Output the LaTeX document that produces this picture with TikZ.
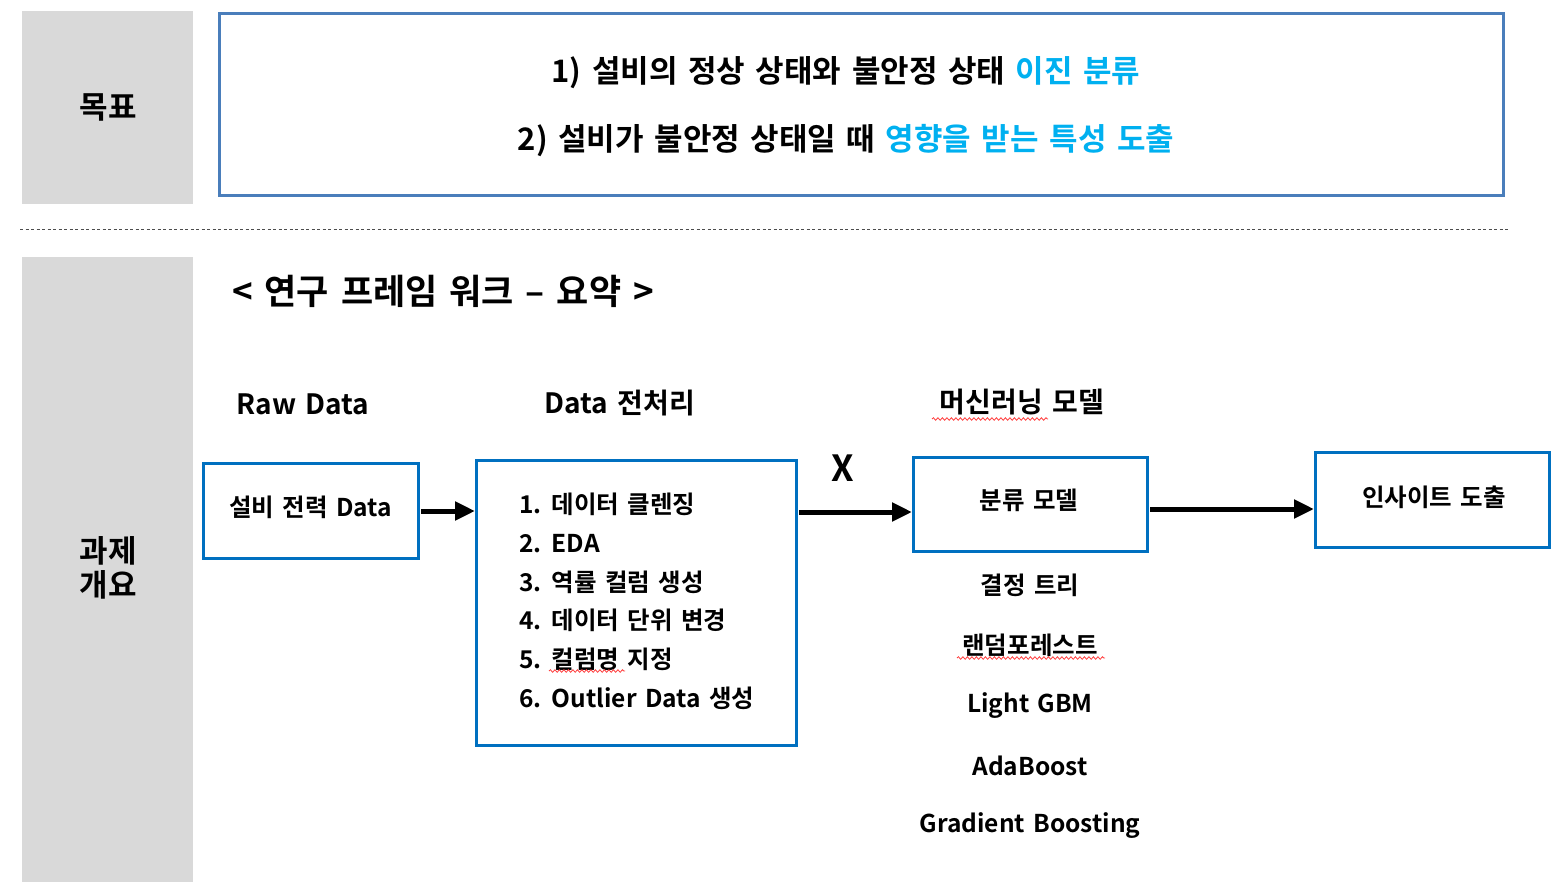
\documentclass[tikz,border=0pt]{standalone}
\usepackage{fontspec}
\setmainfont{Noto Sans CJK KR}[BoldFont={Noto Sans CJK KR Bold}, WordSpace=1.5]
\usetikzlibrary{arrows.meta,decorations.pathmorphing}
\definecolor{graybg}{HTML}{D9D9D9}
\definecolor{goalblue}{HTML}{4A7EBB}
\definecolor{boxblue}{HTML}{0070C0}
\definecolor{hl}{HTML}{00B0F0}
\begin{document}
\begin{tikzpicture}[x=1pt,y=-1pt,
  txt/.style={font=\fontsize{#1}{#1}\selectfont\bfseries, inner sep=0pt},
  txt/.default=24,
  flowbox/.style={draw=boxblue, line width=3pt, fill=white},
  bigarrow/.style={line width=5pt, -{Triangle[length=20pt,width=18pt]}, shorten <=3pt, shorten >=1pt},
  squig/.style={draw=red!75, line width=0.8pt, decorate, decoration={snake, amplitude=1.3pt, segment length=4.5pt}}]
\useasboundingbox (0,0) rectangle (1564,891);
% side labels
\fill[graybg] (22,11) rectangle (193,204);
\fill[graybg] (22,257) rectangle (193,882);
\node[txt=31] (lblgoal) at (108,107) {목표};
\node[txt=31, align=center] (lbltask) at (108,568) {과제\\[3pt]개요};
% goal box
\draw[goalblue, line width=3pt] (219,14) rectangle (1503,195);
\node[txt=31] (goal1) at (846,73) {1) 설비의 정상 상태와 불안정 상태 \textcolor{hl}{이진 분류}};
\node[txt=31] (goal2) at (846,141) {2) 설비가 불안정 상태일 때 \textcolor{hl}{영향을 받는 특성 도출}};
% dashed separator
\draw[black!70, line width=1pt, dash pattern=on 3pt off 2.5pt] (20,229) -- (1510,229);
% title
\node[txt=35, anchor=west] (title) at (232,291) {< 연구 프레임 워크 – 요약 >};
% headings
\node[txt=28] (h1) at (303,404) {Raw Data};
\node[txt=28] (h2) at (620,403) {Data 전처리};
\node[txt=28] (h3) at (1022,402) {머신러닝 모델};
% boxes
\draw[flowbox] (203,463) rectangle (418,558);
\node[txt=24.5] (raw) at (310.5,507) {설비 전력 Data};
\coordinate (rawE) at (418,511);
\draw[flowbox] (476,460) rectangle (796,745);
\coordinate (preW) at (476,511);
\coordinate (preE) at (796,512);
\node[txt=24.5, anchor=west] (p1) at (519,504) {1. 데이터 클렌징};
\node[txt=24.5, anchor=west] (p2) at (519,544) {2. EDA};
\node[txt=24.5, anchor=west] (p3) at (519,582) {3. 역률 컬럼 생성};
\node[txt=24.5, anchor=west] (p4) at (519,620) {4. 데이터 단위 변경};
\node[txt=24.5, anchor=west] (p5) at (519,659) {5. 컬럼명 지정};
\node[txt=24.5, anchor=west] (p6) at (519,698) {6. Outlier Data 생성};
\draw[flowbox] (913,457) rectangle (1147,551);
\node[txt=24.5] (cls) at (1029,500) {분류 모델};
\coordinate (clsW) at (913,512);
\coordinate (clsE) at (1147,509);
\draw[flowbox] (1315,452) rectangle (1549,547);
\node[txt=24.5] (ins) at (1434,497) {인사이트 도출};
\coordinate (insW) at (1315,509);
% arrows
\draw[bigarrow] (rawE) -- (preW);
\draw[bigarrow] (preE) -- (clsW);
\draw[bigarrow] (clsE) -- (insW);
\node[txt=36] (x) at (843,468) {X};
% model list
\node[txt=24.5] (m1) at (1030,585) {결정 트리};
\node[txt=24.5] (m2) at (1030,645) {랜덤포레스트};
\node[txt=24.5] (m3) at (1030,706) {Light GBM};
\node[txt=24.5] (m4) at (1030,766) {AdaBoost};
\node[txt=24.5] (m5) at (1030,826) {Gradient Boosting};
% spell-check squiggles
\draw[squig] (932,419) -- (1048,419);
\draw[squig] (549,671) -- (625,671);
\draw[squig] (957,658) -- (1105,658);
\end{tikzpicture}
\end{document}
